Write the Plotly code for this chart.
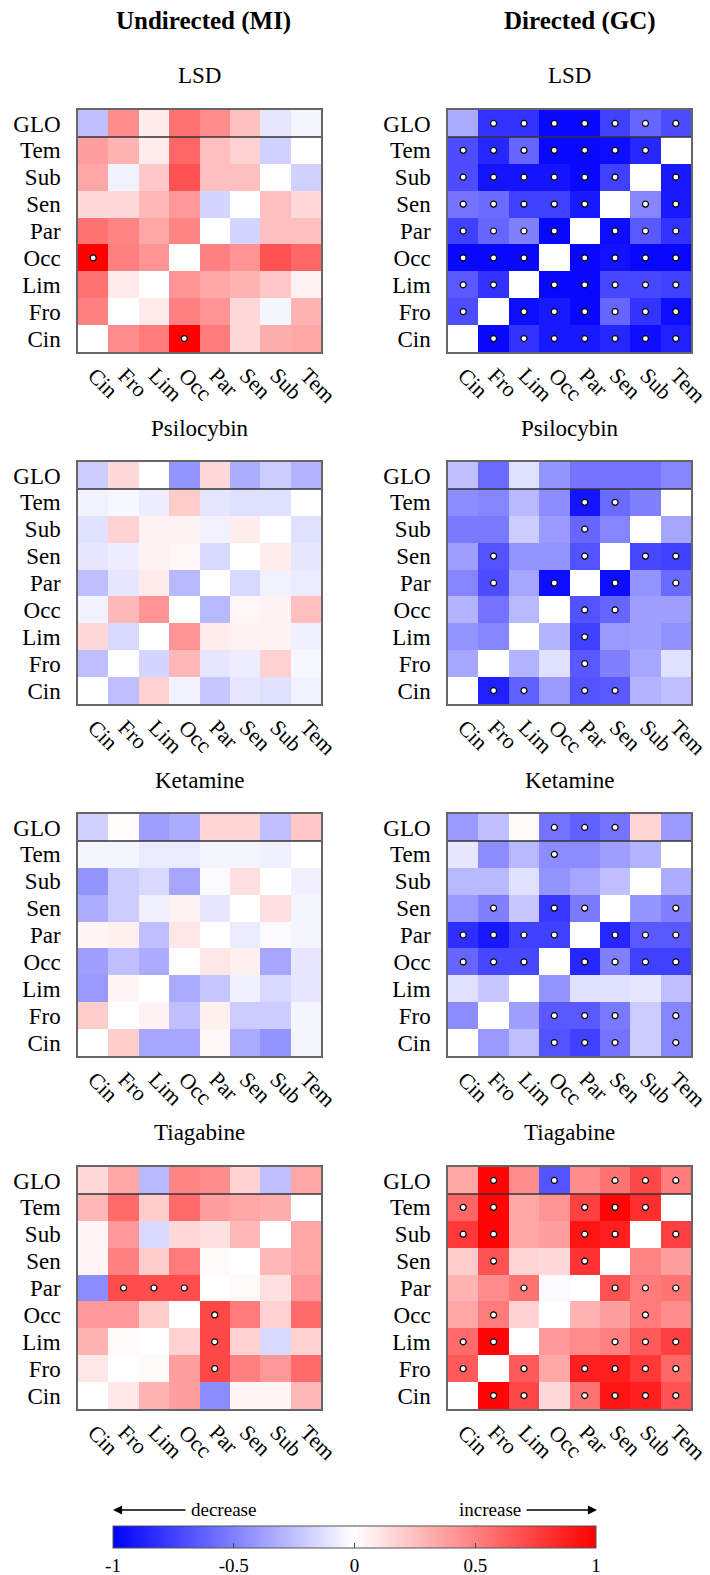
import plotly.graph_objects as go

W, H = 710, 1575

cols = ["Cin", "Fro", "Lim", "Occ", "Par", "Sen", "Sub", "Tem"]
rows = ["GLO", "Tem", "Sub", "Sen", "Par", "Occ", "Lim", "Fro", "Cin"]  # top to bottom
N = None

# ---------------- Undirected (MI) ----------------
mi_lsd = [
    [-0.25, 0.45, 0.08, 0.55, 0.45, 0.25, -0.10, -0.04],
    [0.38, 0.30, 0.07, 0.60, 0.25, 0.18, -0.18, N],
    [0.35, -0.05, 0.22, 0.68, 0.25, 0.25, N, -0.18],
    [0.15, 0.15, 0.28, 0.40, -0.17, N, 0.25, 0.15],
    [0.55, 0.48, 0.35, 0.48, N, -0.17, 0.25, 0.25],
    [1.00, 0.50, 0.42, N, 0.50, 0.42, 0.68, 0.60],
    [0.55, 0.08, N, 0.42, 0.35, 0.30, 0.22, 0.05],
    [0.50, N, 0.08, 0.50, 0.42, 0.15, -0.04, 0.30],
    [N, 0.45, 0.52, 1.00, 0.52, 0.15, 0.32, 0.35],
]
mi_lsd_sig = [
    [0, 0, 0, 0, 0, 0, 0, 0],
    [0, 0, 0, 0, 0, 0, 0, 0],
    [0, 0, 0, 0, 0, 0, 0, 0],
    [0, 0, 0, 0, 0, 0, 0, 0],
    [0, 0, 0, 0, 0, 0, 0, 0],
    [1, 0, 0, 0, 0, 0, 0, 0],
    [0, 0, 0, 0, 0, 0, 0, 0],
    [0, 0, 0, 0, 0, 0, 0, 0],
    [0, 0, 0, 1, 0, 0, 0, 0],
]

mi_psi = [
    [-0.20, 0.15, 0.00, -0.42, 0.15, -0.32, -0.20, -0.30],
    [-0.05, -0.03, -0.07, 0.20, -0.10, -0.12, -0.12, N],
    [-0.12, 0.18, 0.05, 0.05, -0.05, 0.07, N, -0.12],
    [-0.10, -0.07, 0.05, 0.03, -0.15, N, 0.07, -0.10],
    [-0.25, -0.10, 0.08, -0.28, N, -0.15, -0.05, -0.08],
    [-0.05, 0.28, 0.42, N, -0.28, 0.03, 0.05, 0.25],
    [0.15, -0.15, N, 0.42, 0.07, 0.05, 0.05, -0.06],
    [-0.25, N, -0.17, 0.28, -0.10, -0.07, 0.18, -0.03],
    [N, -0.25, 0.18, -0.05, -0.22, -0.10, -0.12, -0.05],
]
mi_psi_sig = [[0] * 8 for _ in range(9)]

mi_ket = [
    [-0.18, 0.01, -0.38, -0.33, 0.17, 0.17, -0.25, 0.22],
    [-0.04, -0.04, -0.08, -0.08, -0.04, -0.04, -0.06, N],
    [-0.42, -0.20, -0.15, -0.35, -0.02, 0.12, N, -0.06],
    [-0.32, -0.20, -0.06, 0.05, -0.10, N, 0.12, -0.04],
    [0.04, 0.06, -0.25, 0.10, N, -0.08, -0.02, -0.04],
    [-0.38, -0.25, -0.33, N, 0.10, 0.06, -0.35, -0.10],
    [-0.40, 0.04, N, -0.33, -0.22, -0.06, -0.15, -0.10],
    [0.20, N, 0.05, -0.25, 0.06, -0.20, -0.20, -0.04],
    [N, 0.20, -0.35, -0.35, 0.03, -0.33, -0.42, -0.04],
]
mi_ket_sig = [[0] * 8 for _ in range(9)]

mi_tia = [
    [0.15, 0.35, -0.28, 0.48, 0.45, 0.18, -0.25, 0.35],
    [0.28, 0.58, 0.20, 0.58, 0.38, 0.35, 0.32, N],
    [0.04, 0.40, -0.15, 0.15, 0.12, 0.28, N, 0.35],
    [0.04, 0.50, 0.20, 0.52, 0.02, N, 0.28, 0.35],
    [-0.45, 0.70, 0.70, 0.70, N, 0.02, 0.12, 0.40],
    [0.40, 0.40, 0.20, N, 0.72, 0.52, 0.18, 0.58],
    [0.30, 0.02, N, 0.18, 0.72, 0.18, -0.15, 0.18],
    [0.10, N, 0.02, 0.38, 0.72, 0.50, 0.40, 0.58],
    [N, 0.10, 0.30, 0.38, -0.45, 0.04, 0.04, 0.28],
]
mi_tia_sig = [
    [0, 0, 0, 0, 0, 0, 0, 0],
    [0, 0, 0, 0, 0, 0, 0, 0],
    [0, 0, 0, 0, 0, 0, 0, 0],
    [0, 0, 0, 0, 0, 0, 0, 0],
    [0, 1, 1, 1, 0, 0, 0, 0],
    [0, 0, 0, 0, 1, 0, 0, 0],
    [0, 0, 0, 0, 1, 0, 0, 0],
    [0, 0, 0, 0, 1, 0, 0, 0],
    [0, 0, 0, 0, 0, 0, 0, 0],
]

# ---------------- Directed (GC) ----------------
gc_lsd = [
    [-0.33, -0.80, -0.80, -0.97, -0.97, -0.75, -0.60, -0.70],
    [-0.70, -0.85, -0.60, -0.97, -0.97, -0.95, -0.85, N],
    [-0.70, -0.92, -0.92, -0.92, -0.97, -0.75, N, -0.90],
    [-0.55, -0.58, -0.75, -0.75, -0.90, N, -0.48, -0.90],
    [-0.75, -0.60, -0.50, -0.97, N, -0.95, -0.65, -0.80],
    [-0.97, -0.97, -0.97, N, -0.97, -0.93, -0.97, -0.97],
    [-0.65, -0.80, N, -0.97, -0.97, -0.72, -0.72, -0.75],
    [-0.70, N, -0.95, -0.90, -0.97, -0.60, -0.80, -0.95],
    [N, -0.97, -0.80, -0.90, -0.90, -0.85, -0.95, -0.88],
]
gc_lsd_sig = [
    [0, 1, 1, 1, 1, 1, 1, 1],
    [1, 1, 1, 1, 1, 1, 1, 0],
    [1, 1, 1, 1, 1, 1, 0, 1],
    [1, 1, 1, 1, 1, 0, 1, 1],
    [1, 1, 1, 1, 0, 1, 1, 1],
    [1, 1, 1, 0, 1, 1, 1, 1],
    [1, 1, 0, 1, 1, 1, 1, 1],
    [1, 0, 1, 1, 1, 1, 1, 1],
    [0, 1, 1, 1, 1, 1, 1, 1],
]

gc_psi = [
    [-0.25, -0.58, -0.12, -0.42, -0.55, -0.55, -0.55, -0.48],
    [-0.45, -0.48, -0.28, -0.45, -0.92, -0.58, -0.50, N],
    [-0.52, -0.52, -0.20, -0.40, -0.60, -0.48, N, -0.35],
    [-0.38, -0.68, -0.42, -0.42, -0.68, N, -0.72, -0.75],
    [-0.48, -0.70, -0.35, -0.95, N, -0.95, -0.42, -0.58],
    [-0.30, -0.55, -0.28, N, -0.68, -0.60, -0.38, -0.38],
    [-0.42, -0.48, N, -0.30, -0.75, -0.40, -0.38, -0.43],
    [-0.35, N, -0.30, -0.12, -0.65, -0.50, -0.35, -0.12],
    [N, -0.88, -0.62, -0.40, -0.68, -0.65, -0.30, -0.25],
]
gc_psi_sig = [
    [0, 0, 0, 0, 0, 0, 0, 0],
    [0, 0, 0, 0, 1, 1, 0, 0],
    [0, 0, 0, 0, 1, 0, 0, 0],
    [0, 1, 0, 0, 1, 0, 1, 1],
    [0, 1, 0, 1, 0, 1, 0, 1],
    [0, 0, 0, 0, 1, 1, 0, 0],
    [0, 0, 0, 0, 1, 0, 0, 0],
    [0, 0, 0, 0, 1, 0, 0, 0],
    [0, 1, 1, 0, 1, 1, 0, 0],
]

gc_ket = [
    [-0.40, -0.25, 0.02, -0.55, -0.62, -0.55, 0.17, -0.40],
    [-0.10, -0.45, -0.28, -0.45, -0.45, -0.38, -0.30, N],
    [-0.28, -0.28, -0.12, -0.42, -0.35, -0.25, N, -0.32],
    [-0.40, -0.50, -0.22, -0.78, -0.52, N, -0.42, -0.50],
    [-0.82, -0.90, -0.75, -0.75, N, -0.85, -0.65, -0.65],
    [-0.60, -0.72, -0.72, N, -0.85, -0.50, -0.75, -0.75],
    [-0.12, -0.22, N, -0.42, -0.12, -0.12, -0.10, -0.25],
    [-0.45, N, -0.38, -0.65, -0.65, -0.52, -0.20, -0.48],
    [N, -0.40, -0.25, -0.68, -0.75, -0.55, -0.20, -0.48],
]
gc_ket_sig = [
    [0, 0, 0, 1, 1, 1, 0, 0],
    [0, 0, 0, 1, 0, 0, 0, 0],
    [0, 0, 0, 0, 0, 0, 0, 0],
    [0, 1, 0, 1, 1, 0, 0, 1],
    [1, 1, 1, 1, 0, 1, 1, 1],
    [1, 1, 1, 0, 1, 1, 1, 1],
    [0, 0, 0, 0, 0, 0, 0, 0],
    [0, 0, 0, 1, 1, 1, 0, 1],
    [0, 0, 0, 1, 1, 1, 0, 1],
]

gc_tia = [
    [0.35, 0.98, 0.45, -0.68, 0.45, 0.55, 0.72, 0.52],
    [0.60, 0.98, 0.35, 0.42, 0.75, 0.98, 0.82, N],
    [0.78, 0.98, 0.35, 0.38, 0.92, 0.88, N, 0.75],
    [0.20, 0.68, 0.17, 0.15, 0.80, N, 0.48, 0.38],
    [0.30, 0.45, 0.55, -0.02, N, 0.68, 0.52, 0.55],
    [0.35, 0.52, 0.18, N, 0.30, 0.38, 0.52, 0.45],
    [0.58, 0.98, N, 0.40, 0.45, 0.50, 0.65, 0.75],
    [0.65, N, 0.65, 0.35, 0.88, 0.88, 0.78, 0.60],
    [N, 0.98, 0.72, 0.15, 0.55, 0.92, 0.88, 0.68],
]
gc_tia_sig = [
    [0, 1, 0, 1, 0, 1, 1, 1],
    [1, 1, 0, 0, 1, 1, 1, 0],
    [1, 1, 0, 0, 1, 1, 0, 1],
    [0, 1, 0, 0, 1, 0, 0, 0],
    [0, 0, 1, 0, 0, 1, 1, 1],
    [0, 1, 0, 0, 0, 0, 1, 0],
    [1, 1, 0, 0, 0, 1, 1, 1],
    [1, 0, 1, 0, 1, 1, 1, 1],
    [0, 1, 1, 0, 1, 1, 1, 1],
]

drugs = ["LSD", "Psilocybin", "Ketamine", "Tiagabine"]
mi_data = [(mi_lsd, mi_lsd_sig), (mi_psi, mi_psi_sig), (mi_ket, mi_ket_sig), (mi_tia, mi_tia_sig)]
gc_data = [(gc_lsd, gc_lsd_sig), (gc_psi, gc_psi_sig), (gc_ket, gc_ket_sig), (gc_tia, gc_tia_sig)]
cbar_ticks = [-1, -0.5, 0, 0.5, 1]
cbar_ticktext = ["-1", "-0.5", "0", "0.5", "1"]

# ---------------- layout geometry (pixels) ----------------
col_x = [(78, 321), (448, 691)]
panel_y = [(110, 352), (462, 704), (814, 1056), (1167, 1409)]
sub_title_y = [76, 428, 781, 1132]
FONT = "Liberation Serif"

colorscale = [[0.0, "rgb(0,0,255)"], [0.5, "rgb(255,255,255)"], [1.0, "rgb(255,0,0)"]]

fig = go.Figure()
layout = dict(
    width=W, height=H, margin=dict(l=0, r=0, t=0, b=0, autoexpand=False),
    paper_bgcolor="white", plot_bgcolor="white",
    font=dict(family=FONT, size=23, color="black"),
    showlegend=False,
)
annotations = []
shapes = []

def px_x(p):
    return p / W

def px_y(p):
    return 1 - p / H

CB_X0, CB_X1, CB_Y0, CB_Y1 = 113, 596, 1525.5, 1547.5

idx = 0
for r in range(4):
    for c in range(2):
        idx += 1
        z, sig = (mi_data if c == 0 else gc_data)[r]
        xa = "x" if idx == 1 else f"x{idx}"
        ya = "y" if idx == 1 else f"y{idx}"
        xk = "xaxis" if idx == 1 else f"xaxis{idx}"
        yk = "yaxis" if idx == 1 else f"yaxis{idx}"
        x0, x1 = col_x[c]
        yt, yb = panel_y[r]
        xs = list(range(len(cols)))
        ys = list(range(len(rows)))
        hm = dict(
            z=z, x=xs, y=ys, xaxis=xa, yaxis=ya,
            colorscale=colorscale, zmin=-1, zmax=1,
            showscale=(idx == 1), hoverongaps=False,
        )
        if idx == 1:
            hm["colorbar"] = dict(
                orientation="h", x=px_x((CB_X0 + CB_X1) / 2), xanchor="center",
                y=px_y(CB_Y0), yanchor="top",
                len=CB_X1 - CB_X0, lenmode="pixels",
                thickness=CB_Y1 - CB_Y0, thicknessmode="pixels",
                xpad=0, ypad=0, outlinewidth=1, outlinecolor="#555",
                tickvals=cbar_ticks, ticktext=cbar_ticktext,
                ticks="inside", ticklen=5, tickcolor="#444", tickwidth=1,
                tickfont=dict(family=FONT, size=19),
            )
        fig.add_trace(go.Heatmap(**hm))
        sx, sy = [], []
        for i in range(len(rows)):
            for j in range(len(cols)):
                if sig[i][j]:
                    sx.append(j)
                    sy.append(i)
        fig.add_trace(go.Scatter(
            x=sx, y=sy, xaxis=xa, yaxis=ya, mode="markers",
            marker=dict(size=6, color="white", line=dict(color="black", width=1.2)),
            hoverinfo="skip",
        ))
        layout[xk] = dict(
            domain=[px_x(x0), px_x(x1)], anchor=ya, range=[-0.5, 7.5],
            tickvals=xs, ticktext=cols, tickangle=45, ticks="",
            ticklabelshift=1, ticklabeloverflow="allow",
            showgrid=False, zeroline=False,
            showline=True, mirror=True, linecolor="#666", linewidth=1.5,
            tickfont=dict(family=FONT, size=22), fixedrange=True, automargin=False,
        )
        layout[yk] = dict(
            domain=[px_y(yb), px_y(yt)], anchor=xa, range=[8.5, -0.5],
            tickvals=ys, ticktext=rows, ticks="outside", ticklen=11,
            tickcolor="rgba(0,0,0,0)", showgrid=False, zeroline=False,
            showline=True, mirror=True, linecolor="#666", linewidth=1.5,
            tickfont=dict(family=FONT, size=23), fixedrange=True, automargin=False,
        )
        shapes.append(dict(type="line", xref=xa, yref=ya, x0=-0.5, x1=7.5, y0=0.5, y1=0.5,
                           line=dict(color="#333", width=1.5)))
        annotations.append(dict(
            text=drugs[r], x=px_x((x0 + x1) / 2), y=px_y(sub_title_y[r]),
            xref="paper", yref="paper", xanchor="center", yanchor="middle",
            showarrow=False, font=dict(family=FONT, size=23),
        ))

# top ticks of the colorbar (bottom ones drawn by the colorbar itself)
for v in cbar_ticks[1:-1]:
    xp = CB_X0 + (v + 1) / 2 * (CB_X1 - CB_X0)
    shapes.append(dict(type="line", xref="paper", yref="paper",
                       x0=px_x(xp), x1=px_x(xp), y0=px_y(CB_Y0), y1=px_y(CB_Y0 + 5),
                       line=dict(color="#444", width=1)))

# column titles
annotations.append(dict(text="<b>Undirected (MI)</b>", x=px_x(203), y=px_y(21), xref="paper", yref="paper",
                        xanchor="center", yanchor="middle", showarrow=False,
                        font=dict(family=FONT, size=25)))
annotations.append(dict(text="<b>Directed (GC)</b>", x=px_x(580), y=px_y(21), xref="paper", yref="paper",
                        xanchor="center", yanchor="middle", showarrow=False,
                        font=dict(family=FONT, size=25)))

# colorbar direction labels
annotations.append(dict(text="decrease", x=px_x(223), y=px_y(1509), xref="paper", yref="paper",
                        xanchor="center", yanchor="middle", showarrow=False,
                        font=dict(family=FONT, size=19)))
annotations.append(dict(text="increase", x=px_x(490), y=px_y(1509), xref="paper", yref="paper",
                        xanchor="center", yanchor="middle", showarrow=False,
                        font=dict(family=FONT, size=19)))
annotations.append(dict(text="", x=px_x(113), y=px_y(1510), xref="paper", yref="paper",
                        ax=74, ay=0, showarrow=True, arrowhead=2, arrowsize=1.3, arrowwidth=1.4,
                        arrowcolor="black", standoff=0))
annotations.append(dict(text="", x=px_x(597), y=px_y(1510), xref="paper", yref="paper",
                        ax=-72, ay=0, showarrow=True, arrowhead=2, arrowsize=1.3, arrowwidth=1.4,
                        arrowcolor="black", standoff=0))

layout["annotations"] = annotations
layout["shapes"] = shapes
fig.update_layout(**layout)
fig.write_html("out.html")
